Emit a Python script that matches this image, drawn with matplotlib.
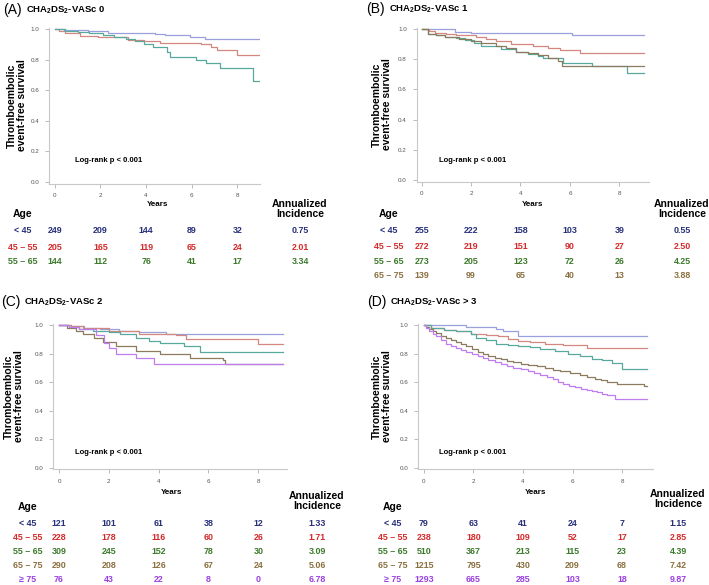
import matplotlib
matplotlib.use("Agg")
import matplotlib.pyplot as plt

plt.rcParams['font.family'] = ['Liberation Sans', 'DejaVu Sans']
plt.rcParams['mathtext.fontset'] = 'custom'
plt.rcParams['mathtext.rm'] = 'Liberation Sans:bold'
plt.rcParams['mathtext.default'] = 'rm'

# ---------------- data ----------------
groups = ["< 45", "45 \u2013 55", "55 \u2013 65", "65 \u2013 75", "\u2265 75"]
panel_labels = ["(A)", "(B)", "(C)", "(D)"]
panel_scores = ["0", "1", "2", "> 3"]
x_ticks = [0, 2, 4, 6, 8]
y_ticks = [0.0, 0.2, 0.4, 0.6, 0.8, 1.0]

# Panel A curves (time in years, survival)
A_lt45_t = [0, 0.4, 1.46, 2.34, 4.39, 4.82, 5.92, 6.58, 8.95]
A_lt45_s = [1.0, 0.993, 0.987, 0.976, 0.967, 0.959, 0.95, 0.935, 0.935]
A_45_t = [0, 0.2, 0.44, 1.1, 1.9, 3.2, 3.9, 4.6, 6.4, 6.84, 7.1, 7.97, 8.95]
A_45_s = [1.0, 0.985, 0.972, 0.954, 0.946, 0.93, 0.92, 0.91, 0.9, 0.88, 0.86, 0.83, 0.83]
A_55_t = [0, 0.45, 1.0, 1.5, 2.1, 2.6, 3.1, 3.5, 3.9, 4.3, 4.9, 5.04, 6.2, 6.65, 7.24, 8.7, 8.95]
A_55_s = [1.0, 0.99, 0.98, 0.975, 0.96, 0.95, 0.935, 0.92, 0.9, 0.88, 0.85, 0.82, 0.80, 0.78, 0.745, 0.66, 0.66]

# Panel B curves
B_lt45_t = [0, 1.35, 2.0, 6.1, 9.0]
B_lt45_s = [1.0, 0.982, 0.976, 0.96, 0.96]
B_45_t = [0, 0.3, 0.54, 1.0, 1.4, 2.2, 2.6, 3.0, 3.6, 4.5, 5.1, 5.6, 6.4, 9.0]
B_45_s = [1.0, 0.985, 0.976, 0.968, 0.96, 0.95, 0.935, 0.92, 0.9, 0.89, 0.875, 0.86, 0.84, 0.84]
B_55_t = [0, 0.27, 0.6, 0.94, 1.4, 1.75, 2.1, 2.4, 3.2, 3.8, 4.3, 4.7, 4.9, 5.7, 6.9, 8.3, 9.0]
B_55_s = [1.0, 0.97, 0.96, 0.95, 0.94, 0.93, 0.91, 0.89, 0.87, 0.85, 0.835, 0.82, 0.81, 0.775, 0.755, 0.71, 0.71]
B_65_t = [0, 0.27, 0.6, 0.94, 1.5, 2.0, 2.4, 3.0, 3.4, 3.8, 4.3, 4.7, 5.1, 5.5, 5.66, 9.0]
B_65_s = [1.0, 0.97, 0.96, 0.945, 0.935, 0.92, 0.91, 0.89, 0.875, 0.85, 0.84, 0.83, 0.81, 0.79, 0.755, 0.755]

# Panel C curves
C_lt45_t = [0, 0.5, 1.0, 1.65, 2.4, 3.2, 4.3, 9.0]
C_lt45_s = [1.0, 0.99, 0.98, 0.97, 0.96, 0.95, 0.935, 0.935]
C_45_t = [0, 0.5, 0.97, 2.0, 3.2, 4.7, 5.1, 8.0, 9.0]
C_45_s = [1.0, 0.99, 0.98, 0.96, 0.94, 0.93, 0.9, 0.865, 0.865]
C_55_t = [0, 0.4, 0.8, 1.38, 2.0, 2.45, 3.1, 3.6, 4.05, 5.0, 5.65, 9.0]
C_55_s = [1.0, 0.985, 0.975, 0.96, 0.95, 0.935, 0.91, 0.89, 0.875, 0.85, 0.81, 0.81]
C_65_t = [0, 0.3, 0.7, 0.97, 1.4, 1.77, 2.3, 3.1, 4.05, 5.25, 6.6, 6.67, 9.0]
C_65_s = [1.0, 0.98, 0.96, 0.94, 0.91, 0.88, 0.85, 0.82, 0.80, 0.77, 0.755, 0.725, 0.725]
C_75_t = [0, 0.4, 0.8, 1.5, 1.8, 2.0, 2.3, 3.1, 3.8, 9.0]
C_75_s = [1.0, 0.985, 0.97, 0.93, 0.875, 0.84, 0.80, 0.77, 0.725, 0.725]

# Panel D curves
D_lt45_t = [0, 1.71, 2.9, 3.2, 3.8, 9.0]
D_lt45_s = [1.0, 0.985, 0.975, 0.96, 0.925, 0.925]
D_45_t = [0, 0.3, 0.8, 1.3, 1.9, 2.5, 3.0, 3.4, 3.8, 4.3, 4.9, 5.6, 6.6, 9.0]
D_45_s = [1.0, 0.98, 0.965, 0.955, 0.94, 0.93, 0.92, 0.90, 0.89, 0.88, 0.87, 0.86, 0.84, 0.84]
D_55_t = [0, 0.3, 0.8, 1.3, 1.9, 2.1, 2.5, 2.9, 3.4, 3.8, 4.3, 4.7, 5.3, 5.8, 6.3, 6.8, 7.2, 7.6, 8.0, 9.0]
D_55_s = [1.0, 0.98, 0.965, 0.955, 0.94, 0.91, 0.895, 0.87, 0.86, 0.855, 0.845, 0.835, 0.82, 0.80, 0.785, 0.765, 0.755, 0.735, 0.695, 0.695]
D_65_t = [0, 0.1, 0.2, 0.35, 0.5, 0.7, 0.9, 1.1, 1.3, 1.5, 1.7, 1.95, 2.2, 2.4, 2.6, 2.85, 3.1, 3.35,
          3.6, 3.9, 4.2, 4.55, 4.9, 5.2, 5.5, 5.9, 6.3, 6.6, 6.9, 7.15, 7.4, 7.8, 8.9, 9.0]
D_65_s = [1.0, 0.985, 0.97, 0.955, 0.945, 0.925, 0.91, 0.895, 0.88, 0.865, 0.85, 0.83, 0.81, 0.797, 0.785,
          0.772, 0.76, 0.75, 0.74, 0.73, 0.72, 0.71, 0.70, 0.688, 0.675, 0.662, 0.65, 0.638, 0.625, 0.612,
          0.60, 0.59, 0.575, 0.575]
D_75_t = [0, 0.1, 0.2, 0.35, 0.5, 0.7, 0.9, 1.1, 1.3, 1.5, 1.7, 1.95, 2.2, 2.4, 2.6, 2.85, 3.1, 3.35,
          3.6, 3.9, 4.2, 4.45, 4.7, 4.95, 5.2, 5.4, 5.6, 5.85, 6.1, 6.35, 6.6, 6.8, 7.0, 7.2, 7.4, 7.7, 9.0]
D_75_s = [1.0, 0.98, 0.96, 0.94, 0.925, 0.895, 0.87, 0.855, 0.84, 0.825, 0.81, 0.795, 0.78, 0.768, 0.755,
          0.742, 0.73, 0.715, 0.70, 0.69, 0.675, 0.662, 0.65, 0.635, 0.62, 0.60, 0.585, 0.575, 0.565, 0.555,
          0.545, 0.537, 0.53, 0.52, 0.51, 0.48, 0.48]

# at-risk tables (years 0, 2, 4, 6, 8) and annualized incidence
A_risk = [[249, 209, 144, 89, 32], [205, 165, 119, 65, 24], [144, 112, 76, 41, 17]]
A_inc = ["0.75", "2.01", "3.34"]
B_risk = [[255, 222, 158, 103, 39], [272, 219, 151, 90, 27], [273, 205, 123, 72, 26], [139, 99, 65, 40, 13]]
B_inc = ["0.55", "2.50", "4.25", "3.88"]
C_risk = [[121, 101, 61, 38, 12], [228, 178, 116, 60, 26], [309, 245, 152, 78, 30],
          [290, 208, 126, 67, 24], [76, 43, 22, 8, 0]]
C_inc = ["1.33", "1.71", "3.09", "5.06", "6.78"]
D_risk = [[79, 63, 41, 24, 7], [238, 180, 109, 52, 17], [510, 367, 213, 115, 23],
          [1215, 795, 430, 209, 68], [1293, 665, 285, 103, 18]]
D_inc = ["1.15", "2.85", "4.39", "7.42", "9.87"]

line_colors = ["#99a0dc", "#d3877e", "#58a99d", "#8c7b5c", "#c07df0"]
text_colors = ["#28307a", "#d42a2a", "#3b7a2a", "#8a7040", "#9a40e0"]

panels = [
    dict(curves=[(A_lt45_t, A_lt45_s), (A_45_t, A_45_s), (A_55_t, A_55_s)], risk=A_risk, inc=A_inc,
         pos=(49, 27.5, 260, 183.5), xlim=(-0.26, 9.0),
         label_x=23, title_xy=(3, 10), ylab_x=17,
         years_y=205, age_y=214, ann=(300, 203), rows=[231, 247, 261], inc_x=300,
         logrank=(75, 161)),
    dict(curves=[(B_lt45_t, B_lt45_s), (B_45_t, B_45_s), (B_55_t, B_55_s), (B_65_t, B_65_s)], risk=B_risk, inc=B_inc,
         pos=(416.7, 27.5, 649, 181.5), xlim=(-0.2, 9.2),
         label_x=389, title_xy=(366, 9), ylab_x=382,
         years_y=205, age_y=214, ann=(682, 203), rows=[231, 246, 261, 275], inc_x=682,
         logrank=(439, 160)),
    dict(curves=[(C_lt45_t, C_lt45_s), (C_45_t, C_45_s), (C_55_t, C_55_s), (C_65_t, C_65_s), (C_75_t, C_75_s)],
         risk=C_risk, inc=C_inc,
         pos=(53.3, 323.6, 286.7, 469.4), xlim=(-0.23, 9.14),
         label_x=28, title_xy=(1, 302), ylab_x=14,
         years_y=493, age_y=507, ann=(317, 495), rows=[523, 538, 552, 566, 580], inc_x=317,
         logrank=(75, 452)),
    dict(curves=[(D_lt45_t, D_lt45_s), (D_45_t, D_45_s), (D_55_t, D_55_s), (D_65_t, D_65_s), (D_75_t, D_75_s)],
         risk=D_risk, inc=D_inc,
         pos=(418.3, 323.6, 652.7, 469.4), xlim=(-0.23, 9.24),
         label_x=393, title_xy=(367, 302), ylab_x=382,
         years_y=492, age_y=507, ann=(678, 493), rows=[523, 538, 552, 566, 580], inc_x=678,
         logrank=(439, 452)),
]

W, H = 709, 585
fig = plt.figure(figsize=(W / 100, H / 100), dpi=100)


def fx(px):
    return px / W


def fy(py):
    return 1 - py / H


for i, p in enumerate(panels):
    x0, y0, x1, y1 = p['pos']
    ax = fig.add_axes([fx(x0), fy(y1), (x1 - x0) / W, (y1 - y0) / H])
    for j, (t, s) in enumerate(p['curves']):
        ax.step(t, s, where='post', color=line_colors[j], lw=0.9)
    ax.set_xlim(*p['xlim'])
    ax.set_ylim(-0.01, 1.01)
    ax.set_xticks(x_ticks)
    ax.set_yticks(y_ticks)
    ax.set_yticklabels([f"{v:.1f}" for v in y_ticks])
    for sp in ['top', 'right']:
        ax.spines[sp].set_visible(False)
    for sp in ['left', 'bottom']:
        ax.spines[sp].set_color('#c8c8c8')
        ax.spines[sp].set_linewidth(0.8)
    ax.tick_params(length=3, width=0.6, color='#b0b0b0', labelsize=4.5, labelcolor='#555555', pad=4)
    ax.patch.set_alpha(0)

    # left-side label
    fig.text(fx(p['ylab_x']), fy((y0 + y1) / 2), "Thromboembolic\nevent-free survival",
             rotation=90, ha='center', va='center', fontsize=7.5, fontweight='bold',
             linespacing=1.05)
    # panel title
    tx, ty = p['title_xy']
    fig.text(fx(tx), fy(ty), panel_labels[i], ha='left', va='center', fontsize=10)
    fig.text(fx(tx + 23), fy(ty), r"CHA$_2$DS$_2$-VASc " + panel_scores[i], ha='left', va='center',
             fontsize=6.8, fontweight='bold')
    # log-rank
    lx, ly = p['logrank']
    fig.text(fx(lx), fy(ly), "Log-rank p < 0.001", ha='left', va='center', fontsize=5.5, fontweight='bold')
    # years label
    xc = ax.transData.transform((4.5, 0))[0]
    fig.text(xc / (fig.get_figwidth() * fig.dpi), fy(p['years_y']), "Years", ha='center', va='center',
             fontsize=5.8, fontweight='bold')
    # Age label
    fig.text(fx(p['label_x']), fy(p['age_y']), "Age", ha='center', va='center', fontsize=7.5, fontweight='bold')
    # Annualized incidence
    ax_, ay_ = p['ann']
    fig.text(fx(ax_), fy(ay_ + 6), "Annualized\nIncidence", ha='center', va='center', fontsize=7.5,
             fontweight='bold', linespacing=1.05)
    # table rows
    for r, row in enumerate(p['risk']):
        yy = fy(p['rows'][r])
        fig.text(fx(p['label_x']), yy, groups[r], ha='center', va='center', fontsize=6.4,
                 fontweight='bold', color=text_colors[r])
        for k, val in enumerate(row):
            xpix = ax.transData.transform((x_ticks[k], 0))[0]
            fig.text(xpix / (fig.get_figwidth() * fig.dpi), yy, str(val), ha='center', va='center',
                     fontsize=6.4, fontweight='bold', color=text_colors[r])
        fig.text(fx(p['inc_x']), yy, p['inc'][r], ha='center', va='center', fontsize=6.4,
                 fontweight='bold', color=text_colors[r])

fig.savefig("out.png", dpi=100)
